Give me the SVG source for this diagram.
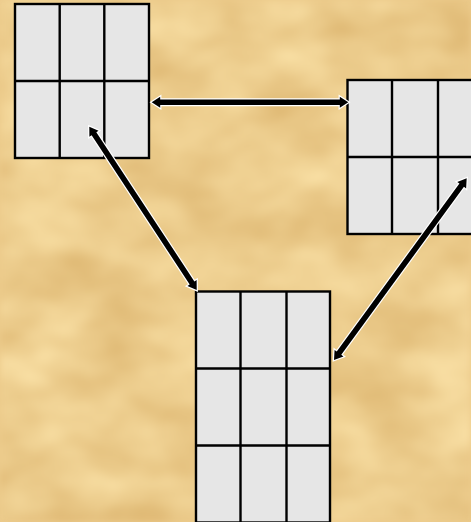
<svg xmlns="http://www.w3.org/2000/svg" width="471" height="522" viewBox="0 0 471 522">
<style>
.cell{fill:#E6E6E6;stroke:none}
.grid line,.grid rect.frame{stroke:#000;stroke-width:2.4;fill:none}
.arrow{fill:#000;stroke:#fff;stroke-width:2.4;paint-order:stroke;stroke-linejoin:miter}
</style>
<defs>
<filter id="parch" x="0" y="0" width="100%" height="100%" color-interpolation-filters="sRGB">
<feTurbulence type="fractalNoise" baseFrequency="0.012 0.02" numOctaves="3" seed="7" result="n"/>
<feColorMatrix in="n" type="matrix" values="0.16 0 0 0 0.845  0.24 0 0 0 0.68  0.30 0 0 0 0.40  0 0 0 0 1"/>
<feGaussianBlur stdDeviation="3"/>
</filter>
</defs>
<rect width="471" height="522" fill="#EDCB8C"/>
<rect width="471" height="522" filter="url(#parch)"/>
<g id="grid1" class="grid">
<rect class="cell" x="15" y="4" width="134" height="154"/>
<line x1="59.7" y1="4" x2="59.7" y2="158"/>
<line x1="104.3" y1="4" x2="104.3" y2="158"/>
<line x1="15" y1="81" x2="149" y2="81"/>
<rect class="frame" x="15" y="4" width="134" height="154"/>
</g>
<g id="grid2" class="grid">
<rect class="cell" x="347.5" y="80" width="134" height="154"/>
<line x1="392" y1="80" x2="392" y2="234"/>
<line x1="438" y1="80" x2="438" y2="234"/>
<line x1="347.5" y1="157" x2="481.5" y2="157"/>
<rect class="frame" x="347.5" y="80" width="134" height="154"/>
</g>
<g id="grid3" class="grid">
<rect class="cell" x="196" y="291.5" width="134" height="231"/>
<line x1="240.5" y1="291.5" x2="240.5" y2="522.5"/>
<line x1="286.5" y1="291.5" x2="286.5" y2="522.5"/>
<line x1="196" y1="368.5" x2="330" y2="368.5"/>
<line x1="196" y1="445.5" x2="330" y2="445.5"/>
<rect class="frame" x="196" y="291.5" width="134" height="231"/>
</g>
<g id="connectors">
<path class="arrow" transform="translate(151.7,102.3)" d="M0,0 L8.5,-5.5 L8.5,-2.8 L188.1,-2.8 L188.1,-5.5 L196.6,0 L188.1,5.5 L188.1,2.8 L8.5,2.8 L8.5,5.5 Z"/>
<path class="arrow" transform="translate(89.3,126.7) rotate(56.67)" d="M0,0 L8.5,-5.5 L8.5,-2.8 L187,-2.8 L187,-5.5 L195.5,0 L187,5.5 L187,2.8 L8.5,2.8 L8.5,5.5 Z"/>
<path class="arrow" transform="translate(334,360) rotate(-53.86)" d="M0,0 L8.5,-5.5 L8.5,-2.8 L216.5,-2.8 L216.5,-5.5 L225,0 L216.5,5.5 L216.5,2.8 L8.5,2.8 L8.5,5.5 Z"/>
</g>
</svg>
